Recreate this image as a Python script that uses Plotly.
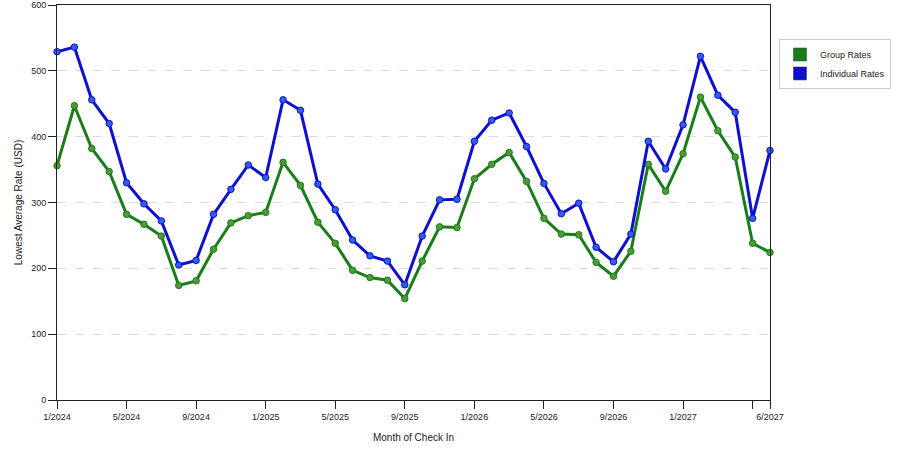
import plotly.graph_objects as go

# Monthly check-in months, 1/2024 .. 6/2027
MONTHS = [f"{(i % 12) + 1}/{2024 + i // 12}" for i in range(42)]

GROUP_RATES = [
    356, 447, 382, 347, 282, 267, 249, 174, 181, 229, 269, 280,
    285, 361, 326, 270, 238, 197, 186, 182, 154, 211, 263, 262,
    336, 358, 376, 332, 276, 252, 251, 209, 188, 226, 358, 317,
    374, 460, 409, 369, 238, 224,
]
INDIVIDUAL_RATES = [
    529, 536, 456, 420, 330, 298, 272, 205, 212, 282, 320, 357,
    338, 456, 440, 328, 289, 243, 219, 211, 175, 249, 304, 305,
    393, 425, 436, 385, 329, 283, 299, 232, 210, 252, 393, 351,
    418, 522, 463, 437, 276, 379,
]

TICK_IDX = [0, 4, 8, 12, 16, 20, 24, 28, 32, 36, 40, 41]
TICK_TEXT = ["1/2024", "5/2024", "9/2024", "1/2025", "5/2025", "9/2025",
             "1/2026", "5/2026", "9/2026", "1/2027", "", "6/2027"]

GREEN_LINE = '#1a7d1a'
GREEN_MARK = '#4f9a35'
BLUE_LINE = '#0f0fd0'
BLUE_MARK = '#2f5fe6'

FONT = 'Liberation Sans, Arial, sans-serif'

x = list(range(len(MONTHS)))

fig = go.Figure()

for name, vals, lc, mc in [
    ('Group Rates', GROUP_RATES, GREEN_LINE, GREEN_MARK),
    ('Individual Rates', INDIVIDUAL_RATES, BLUE_LINE, BLUE_MARK),
]:
    fig.add_trace(go.Scatter(
        x=x, y=vals, mode='lines+markers', name=name,
        customdata=MONTHS,
        line=dict(color=lc, width=3),
        marker=dict(color=mc, size=6.5, line=dict(color=lc, width=1)),
        showlegend=False, cliponaxis=False,
        hovertemplate='%{customdata}: $%{y}<extra>' + name + '</extra>',
    ))
    # square swatch for the legend
    fig.add_trace(go.Scatter(
        x=[None], y=[None], mode='markers', name=name,
        marker=dict(symbol='square', size=13, color=lc,
                    line=dict(color='#333333', width=0.5)),
    ))

fig.update_layout(
    width=900, height=450,
    margin=dict(l=57, r=130, t=5, b=49.5, autoexpand=False),
    paper_bgcolor='white', plot_bgcolor='white',
    font=dict(family=FONT, size=9, color='#222222'),
    xaxis=dict(
        range=[0, 41], tickmode='array', tickvals=TICK_IDX, ticktext=TICK_TEXT,
        ticks='outside', ticklen=8, tickcolor='#222222', automargin=False,
        showline=True, linecolor='#222222', linewidth=1, mirror=True,
        showgrid=False, zeroline=False,
        title=dict(text='Month of Check In', font=dict(size=10), standoff=13),
    ),
    yaxis=dict(
        range=[0, 600], tickvals=[0, 100, 200, 300, 400, 500, 600],
        ticks='outside', ticklen=8, tickcolor='#222222', automargin=False,
        showline=True, linecolor='#222222', linewidth=1, mirror=True,
        showgrid=True, gridcolor='#dddddd', griddash='dash', gridwidth=1,
        zeroline=False,
        title=dict(text='Lowest Average Rate (USD)', font=dict(size=10), standoff=6),
    ),
    legend=dict(
        x=1.0126, y=0.914, xanchor='left', yanchor='top',
        bgcolor='white', bordercolor='#cccccc', borderwidth=1,
        font=dict(size=9), itemwidth=30, tracegroupgap=2,
    ),
    hovermode='closest',
)

# page body has a default 8px margin; drop it so the chart sits at the window corner
fig.write_html("out.html", config={'displayModeBar': False},
               post_script="document.body.style.margin='0';")
